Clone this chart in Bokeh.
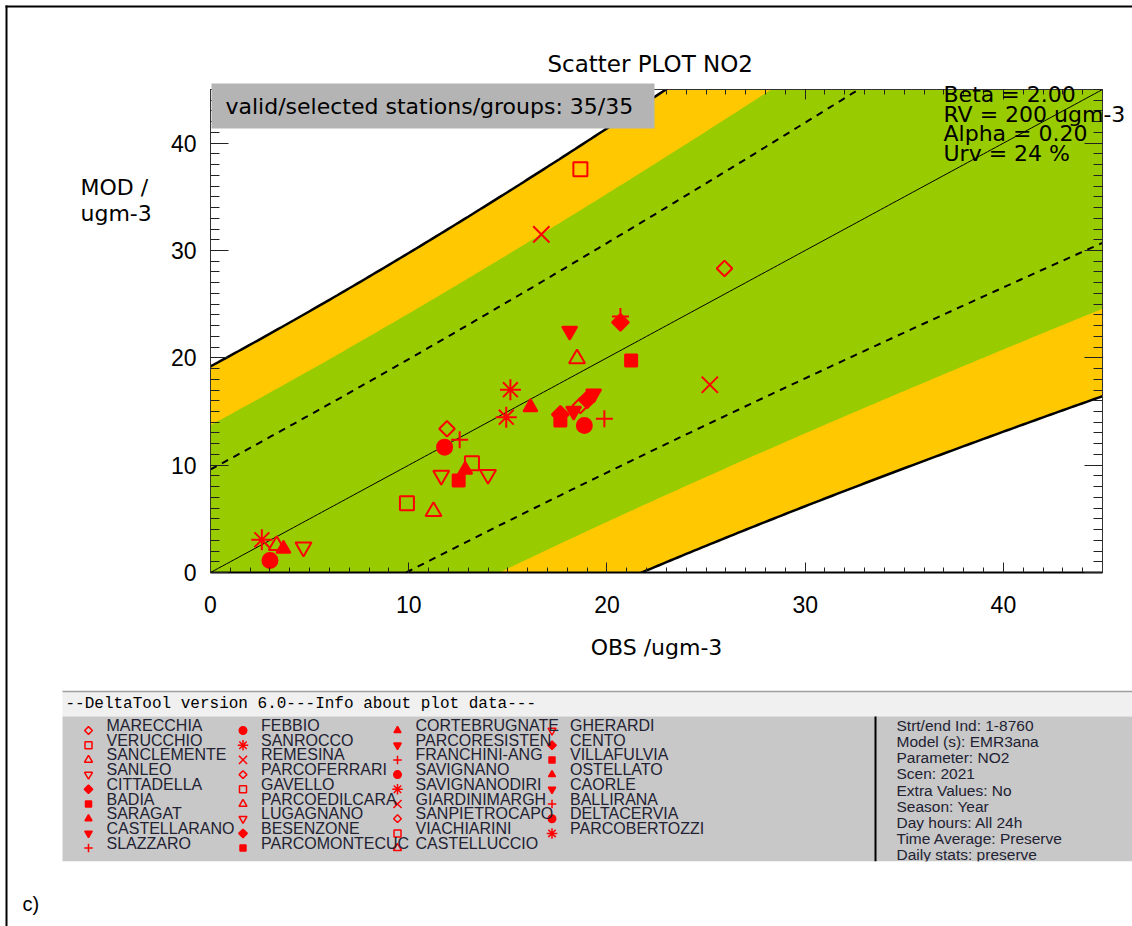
import numpy as np
from bokeh.plotting import figure
from bokeh.models import Range1d, LinearAxis, SingleIntervalTicker, ColumnDataSource, CustomJSTickFormatter
from bokeh.embed import file_html
from bokeh.resources import INLINE
from bokeh.core.properties import value

# ---------------- data ----------------
stations = ["MARECCHIA", "VERUCCHIO", "SANCLEMENTE", "SANLEO", "CITTADELLA", "BADIA",
            "SARAGAT", "CASTELLARANO", "SLAZZARO", "FEBBIO", "SANROCCO", "REMESINA",
            "PARCOFERRARI", "GAVELLO", "PARCOEDILCARA", "LUGAGNANO", "BESENZONE",
            "PARCOMONTECUC", "CORTEBRUGNATE", "PARCORESISTEN", "FRANCHINI-ANG", "SAVIGNANO",
            "SAVIGNANODIRI", "GIARDINIMARGH", "SANPIETROCAPO", "VIACHIARINI", "CASTELLUCCIO",
            "GHERARDI", "CENTO", "VILLAFULVIA", "OSTELLATO", "CAORLE", "BALLIRANA",
            "DELTACERVIA", "PARCOBERTOZZI"]
obs = [11.93, 9.91, 11.25, 4.69, 20.68, 12.52, 16.14, 18.32, 20.68, 3.00, 2.59, 25.19,
       25.93, 13.19, 18.49, 11.64, 17.65, 21.22, 3.68, 18.12, 19.87, 11.81, 15.13, 16.69,
       18.66, 18.66, 3.34, 14.00, 19.00, 17.65, 12.85, 19.33, 12.57, 18.86, 14.92]
mod = [13.39, 6.46, 5.69, 2.36, 23.30, 8.57, 15.41, 15.03, 23.86, 1.12, 3.05, 17.49,
       28.33, 10.19, 19.92, 9.04, 14.72, 19.76, 2.21, 22.49, 14.32, 11.68, 17.03, 31.50,
       15.56, 37.56, 2.52, 9.13, 16.10, 14.17, 9.57, 16.65, 12.37, 13.70, 14.47]

BETA = 2.00
RV = 200.0
ALPHA = 0.20
URV = 0.24
K_GREEN = 1.43

title_text = "Scatter PLOT   NO2"
box_text = "valid/selected stations/groups: 35/35"
x_label = "OBS /ugm-3"
y_label_lines = ["MOD /", "ugm-3"]
param_lines = ["Beta = 2.00", "RV = 200 ugm-3", "Alpha = 0.20", "Urv = 24 %"]
info_lines = ["Strt/end Ind: 1-8760", "Model (s): EMR3ana", "Parameter: NO2", "Scen: 2021",
              "Extra Values: No", "Season: Year", "Day hours: All 24h",
              "Time Average: Preserve", "Daily stats: preserve"]
header_text = "--DeltaTool version 6.0---Info about plot data---"
panel_tag = "c)"

FONT = "Liberation Sans"
WIDE = "DejaVu Sans"
RED = "#ff0000"

# symbol cycle (style)
SYMBOLS = [
    dict(marker="square", angle=np.pi / 4, size=11, fill=False),
    dict(marker="square", angle=0.0, size=14, fill=False),
    dict(marker="triangle", angle=0.0, size=16, fill=False),
    dict(marker="inverted_triangle", angle=0.0, size=16, fill=False),
    dict(marker="square", angle=np.pi / 4, size=12, fill=True),
    dict(marker="square", angle=0.0, size=12, fill=True),
    dict(marker="triangle", angle=0.0, size=14, fill=True),
    dict(marker="inverted_triangle", angle=0.0, size=15, fill=True),
    dict(marker="cross", angle=0.0, size=17, fill=False),
    dict(marker="circle", angle=0.0, size=15, fill=True),
    dict(marker="asterisk", angle=0.0, size=21, fill=False),
    dict(marker="x", angle=0.0, size=23, fill=False),
]

# ---------------- main plot ----------------
pa = figure(width=1132, height=690, x_range=Range1d(0, 45), y_range=Range1d(0, 45),
            output_backend="svg", toolbar_location=None,
            min_border_left=210, min_border_right=30, min_border_top=89, min_border_bottom=118,
            background_fill_color="white", border_fill_color="white",
            outline_line_color="#222222", outline_line_width=1,
            styles={"position": "absolute", "top": "0px", "left": "0px"})
pa.grid.grid_line_color = None
bx = pa.below[0]
ly = pa.left[0]

o_grid = np.linspace(0, 45, 226)
u_o = URV * np.sqrt((1 - ALPHA ** 2) * o_grid ** 2 + ALPHA ** 2 * RV ** 2)

pa.varea(x=o_grid, y1=o_grid - BETA * u_o, y2=o_grid + BETA * u_o, color="#ffc800")
pa.varea(x=o_grid, y1=o_grid - K_GREEN * u_o, y2=o_grid + K_GREEN * u_o, color="#99cc00")
pa.line(o_grid, o_grid, line_color="black", line_width=1)
pa.line(o_grid, o_grid + 0.5 * BETA * u_o, line_color="black", line_width=2, line_dash="7 6")
pa.line(o_grid, o_grid - 0.5 * BETA * u_o, line_color="black", line_width=2, line_dash="7 6")
pa.line(o_grid, o_grid + BETA * u_o, line_color="black", line_width=2.5)
pa.line(o_grid, o_grid - BETA * u_o, line_color="black", line_width=2.5)

for si, sym in enumerate(SYMBOLS):
    idx = [i for i in range(len(stations)) if i % len(SYMBOLS) == si]
    src = ColumnDataSource(dict(x=[obs[i] for i in idx], y=[mod[i] for i in idx]))
    pa.scatter("x", "y", source=src, marker=sym["marker"], angle=sym["angle"], size=sym["size"],
               line_color=RED, line_width=2,
               fill_color=RED if sym["fill"] else None)

ticker = SingleIntervalTicker(interval=10, num_minor_ticks=10)
blank = CustomJSTickFormatter(code="return ''")
top_ax = LinearAxis(ticker=ticker, formatter=blank)
right_ax = LinearAxis(ticker=ticker, formatter=blank)
pa.add_layout(top_ax, "above")
pa.add_layout(right_ax, "right")
bx.ticker = ticker
ly.ticker = ticker
for ax in (bx, top_ax):
    ax.major_tick_in = 10
    ax.major_tick_out = 0
    ax.minor_tick_in = 5
    ax.minor_tick_out = 0
for ax in (ly, right_ax):
    ax.major_tick_in = 18
    ax.major_tick_out = 0
    ax.minor_tick_in = 9
    ax.minor_tick_out = 0
for ax in (bx, ly, top_ax, right_ax):
    ax.major_tick_line_color = "#222222"
    ax.minor_tick_line_color = "#222222"
    ax.axis_line_color = "#333333"
    ax.major_label_text_font = FONT
    ax.major_label_text_font_size = "23px"
    ax.major_label_text_color = "black"
for ax in (top_ax, right_ax):
    ax.major_label_standoff = 0
bx.axis_line_width = 2
bx.axis_line_color = "black"
bx.major_label_standoff = 23
ly.major_label_standoff = 14

# ---------------- page overlay: texts and info panel ----------------
pb = figure(width=1132, height=926, x_range=Range1d(0, 1132), y_range=Range1d(926, 0),
            output_backend="svg", toolbar_location=None, min_border=0,
            x_axis_location=None, y_axis_location=None, outline_line_color=None,
            background_fill_color=None, border_fill_color=None,
            styles={"position": "absolute", "top": "0px", "left": "0px"})
pb.grid.grid_line_color = None

def txt(fig, x, y, t, font, size, align="left", color="black"):
    fig.text(x=[x], y=[y], text=[t], text_font=value(font), text_font_size=size,
             text_align=align, text_baseline="middle", text_color=color)

# outer frame lines
pb.segment(x0=[5, 6], y0=[6, 5], x1=[1132, 6], y1=[6, 926], line_color="black", line_width=2)

txt(pb, 657, 63, title_text, WIDE, "23px", align="center")
for j, t in enumerate(y_label_lines):
    txt(pb, 80, 187 + j * 26, t, WIDE, "22px")
txt(pb, 656, 647, x_label, WIDE, "22px", align="center")

pb.quad(left=[211], right=[654], top=[83], bottom=[128], fill_color="#b4b4b4", line_color=None)
txt(pb, 225, 106, box_text, WIDE, "22px")
for j, t in enumerate(param_lines):
    txt(pb, 943, 94 + j * 19.7, t, WIDE, "22px")

# info panel
pb.quad(left=[62], right=[1132], top=[691], bottom=[716], fill_color="#f0f0f0", line_color=None)
pb.segment(x0=[62], y0=[691], x1=[1132], y1=[691], line_color="#a0a0a0", line_width=1.5)
pb.quad(left=[62], right=[1132], top=[716], bottom=[861], fill_color="#c8c8c8", line_color=None)
pb.segment(x0=[875], y0=[716], x1=[875], y1=[861], line_color="black", line_width=2)
txt(pb, 65, 703, header_text, "Liberation Mono", "16px")

ROWS = 9
leg_scale = 0.5
for si, sym in enumerate(SYMBOLS):
    idx = [i for i in range(len(stations)) if i % len(SYMBOLS) == si]
    mx = [88 + (i // ROWS) * 154.5 for i in idx]
    my = [730 + (i % ROWS) * 14.7 for i in idx]
    pb.scatter(mx, my, marker=sym["marker"], angle=sym["angle"], size=sym["size"] * leg_scale,
               line_color=RED, line_width=1.5, fill_color=RED if sym["fill"] else None)
pb.text(x=[106 + (i // ROWS) * 154.5 for i in range(len(stations))],
        y=[725 + (i % ROWS) * 14.7 for i in range(len(stations))],
        text=stations, text_font=value(FONT), text_font_size="16px",
        text_baseline="middle", text_color="#222233")
pb.text(x=[896] * len(info_lines), y=[725 + j * 16.15 for j in range(len(info_lines))],
        text=info_lines, text_font=value(FONT), text_font_size="15.5px",
        text_baseline="middle", text_color="#222233")
pb.quad(left=[62], right=[1132], top=[861], bottom=[926], fill_color="white", line_color=None)
txt(pb, 22, 903, panel_tag, FONT, "20px")

open("out.html", "w").write(file_html([pa, pb], INLINE, title="Scatter PLOT NO2"))
